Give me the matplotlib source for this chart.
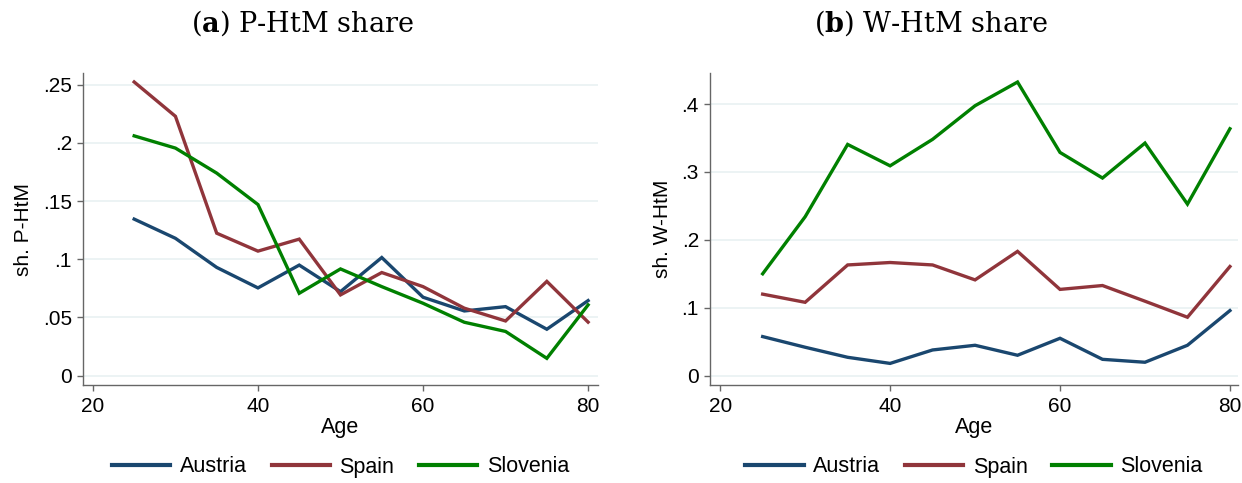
import matplotlib
matplotlib.use("Agg")
import matplotlib.pyplot as plt

plt.rcParams['font.family'] = ['Liberation Sans', 'DejaVu Sans']
plt.rcParams['mathtext.fontset'] = 'custom'
plt.rcParams['mathtext.rm'] = 'DejaVu Serif'
plt.rcParams['mathtext.bf'] = 'DejaVu Serif:bold'

ages = [25, 30, 35, 40, 45, 50, 55, 60, 65, 70, 75, 80]

p_austria  = [0.1345, 0.118, 0.093, 0.0754, 0.095, 0.0722, 0.1015, 0.0674, 0.0556, 0.0593, 0.0399, 0.0645]
p_spain    = [0.2523, 0.2228, 0.1224, 0.107, 0.1173, 0.0694, 0.0886, 0.0765, 0.058, 0.047, 0.081, 0.046]
p_slovenia = [0.206, 0.1955, 0.174, 0.147, 0.0708, 0.0917, 0.0765, 0.0622, 0.0459, 0.038, 0.0149, 0.0608]

w_austria  = [0.0575, 0.0418, 0.027, 0.018, 0.0378, 0.0447, 0.030, 0.055, 0.024, 0.0197, 0.0447, 0.0958]
w_spain    = [0.120, 0.108, 0.163, 0.1666, 0.163, 0.141, 0.183, 0.127, 0.1327, 0.1096, 0.086, 0.1607]
w_slovenia = [0.150, 0.234, 0.3405, 0.309, 0.348, 0.3975, 0.4324, 0.3287, 0.291, 0.3425, 0.2526, 0.3636]

countries = ['Austria', 'Spain', 'Slovenia']
colors = ['#1a476f', '#90353b', '#008000']

x_ticks = [20, 40, 60, 80]
p_yticks = [0, 0.05, 0.1, 0.15, 0.2, 0.25]
p_ylabels = ['0', '.05', '.1', '.15', '.2', '.25']
w_yticks = [0, 0.1, 0.2, 0.3, 0.4]
w_ylabels = ['0', '.1', '.2', '.3', '.4']

W, H = 1242, 483
fig = plt.figure(figsize=(W / 100, H / 100), dpi=100)

def fx(px):
    return px / W

def fy(py):
    return 1 - py / H

panels = [
    dict(rect=[fx(83), fy(385), fx(598) - fx(83), fy(73) - fy(385)],
         series=[p_austria, p_spain, p_slovenia], yticks=p_yticks, ylabels=p_ylabels,
         ylim=(-0.008, 0.26), xlim=(18.8, 81.2), ylabel='sh. P-HtM',
         title=r'($\mathbf{a}$) P-HtM share', tx=302),
    dict(rect=[fx(710), fy(385), fx(1238) - fx(710), fy(73) - fy(385)],
         series=[w_austria, w_spain, w_slovenia], yticks=w_yticks, ylabels=w_ylabels,
         ylim=(-0.0138, 0.4457), xlim=(18.8, 80.95), ylabel='sh. W-HtM',
         title=r'($\mathbf{b}$) W-HtM share', tx=931),
]

for p in panels:
    ax = fig.add_axes(p['rect'])
    for name, vals, c in zip(countries, p['series'], colors):
        ax.plot(ages, vals, color=c, lw=2.4, label=name, solid_joinstyle='miter')
    ax.set_xlim(*p['xlim'])
    ax.set_ylim(*p['ylim'])
    ax.set_xticks(x_ticks)
    ax.set_xticklabels([str(t) for t in x_ticks])
    ax.set_yticks(p['yticks'])
    ax.set_yticklabels(p['ylabels'])
    ax.grid(axis='y', color='#eaf2f3', lw=1.3)
    ax.set_axisbelow(True)
    for s in ['top', 'right']:
        ax.spines[s].set_visible(False)
    for s in ['left', 'bottom']:
        ax.spines[s].set_color('#666666')
        ax.spines[s].set_linewidth(1.0)
    ax.tick_params(axis='both', colors='#666666', labelcolor='black', length=4,
                   width=1.0, labelsize=15, pad=4)
    ax.tick_params(axis='x', pad=5)
    ax.set_xlabel('Age', fontsize=15.5, labelpad=0)
    ax.set_ylabel(p['ylabel'], fontsize=15, labelpad=7)
    fig.text(fx(p['tx']), fy(23), p['title'], ha='center', va='center',
             fontsize=19.5, family='DejaVu Serif')
    pos = ax.get_position()
    leg = ax.legend(loc='center', bbox_to_anchor=(pos.x0 + pos.width / 2, fy(467)),
                    bbox_transform=fig.transFigure, ncol=3, frameon=False,
                    fontsize=15.5, handlelength=2.7, handletextpad=0.45, columnspacing=1.15)
    for line in leg.get_lines():
        line.set_linewidth(3)

fig.savefig('out.png', dpi=100)
